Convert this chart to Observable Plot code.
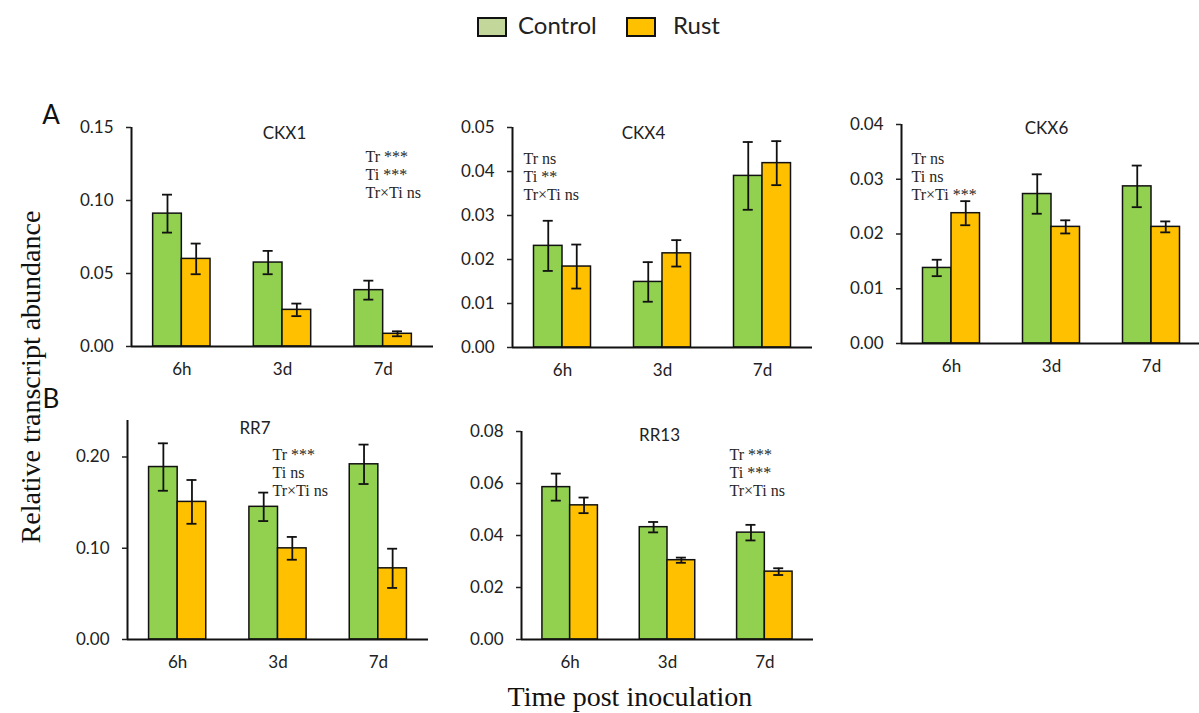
<!DOCTYPE html>
<html>
<head>
<meta charset="utf-8">
<script src="https://cdn.jsdelivr.net/npm/d3@7"></script>
<script src="https://cdn.jsdelivr.net/npm/@observablehq/plot@0.6"></script>
<style>
  html, body { margin: 0; padding: 0; background: #fff; overflow: hidden; }
  #root { position: relative; width: 1199px; height: 713px; overflow: hidden; background: #fff; }
  .panel { position: absolute; }
  .abs { position: absolute; white-space: nowrap; line-height: 1; }
  .swatch { position: absolute; box-sizing: border-box; border: 2px solid #111; width: 30px; height: 20px; }
</style>
</head>
<body>
<div id="root"></div>
<script>
// ---------- data ----------
const times = ["6h", "3d", "7d"];
const treatments = ["Control", "Rust"];

const ckx1Control    = [0.0910, 0.0575, 0.0386];
const ckx1ControlErr = [0.0130, 0.0080, 0.0065];
const ckx1Rust       = [0.0600, 0.0251, 0.0087];
const ckx1RustErr    = [0.0105, 0.0043, 0.0017];

const ckx4Control    = [0.0231, 0.0149, 0.0390];
const ckx4ControlErr = [0.0057, 0.0045, 0.0077];
const ckx4Rust       = [0.0184, 0.0214, 0.0419];
const ckx4RustErr    = [0.0050, 0.0030, 0.0050];

const ckx6Control    = [0.0138, 0.0273, 0.0287];
const ckx6ControlErr = [0.0015, 0.0036, 0.0038];
const ckx6Rust       = [0.0238, 0.0213, 0.0213];
const ckx6RustErr    = [0.0022, 0.0012, 0.0010];

const rr7Control     = [0.1890, 0.1454, 0.1920];
const rr7ControlErr  = [0.0260, 0.0156, 0.0216];
const rr7Rust        = [0.1508, 0.0999, 0.0780];
const rr7RustErr     = [0.0240, 0.0125, 0.0215];

const rr13Control    = [0.0586, 0.0432, 0.0411];
const rr13ControlErr = [0.0052, 0.0020, 0.0030];
const rr13Rust       = [0.0516, 0.0305, 0.0261];
const rr13RustErr    = [0.0030, 0.0010, 0.0013];

const ckx1Ticks = [0, 0.05, 0.10, 0.15];
const ckx4Ticks = [0, 0.01, 0.02, 0.03, 0.04, 0.05];
const ckx6Ticks = [0, 0.01, 0.02, 0.03, 0.04];
const rr7Ticks  = [0, 0.10, 0.20];
const rr13Ticks = [0, 0.02, 0.04, 0.06, 0.08];

const ckx1Stats = ["Tr ***", "Ti ***", "Tr×Ti ns"];
const ckx4Stats = ["Tr ns", "Ti **", "Tr×Ti ns"];
const ckx6Stats = ["Tr ns", "Ti ns", "Tr×Ti ***"];
const rr7Stats  = ["Tr ***", "Ti ns", "Tr×Ti ns"];
const rr13Stats = ["Tr ***", "Ti ***", "Tr×Ti ns"];

const legendLabels = treatments;
const yAxisTitle = "Relative transcript abundance";
const xAxisTitle = "Time post inoculation";
const panelLetters = ["A", "B"];

// ---------- style ----------
const controlColor = "#92D050";
const rustColor = "#FFC000";
const legendControlColor = "#C4D79B";
const padIn = 0.43;

const panels = [
  {gene: "CKX1", c: ckx1Control, ce: ckx1ControlErr, r: ckx1Rust, re: ckx1RustErr, yMax: 0.15, ticks: ckx1Ticks, stats: ckx1Stats,
   left: 0, top: 90, width: 451, height: 296, ml: 131, mr: 18, mt: 37, mb: 40, tdx: 2, tdy: 6, sdx: 234, sdy: 22},
  {gene: "CKX4", c: ckx4Control, ce: ckx4ControlErr, r: ckx4Rust, re: ckx4RustErr, yMax: 0.05, ticks: ckx4Ticks, stats: ckx4Stats,
   left: 450, top: 90, width: 380, height: 297, ml: 62, mr: 18, mt: 37, mb: 40, tdx: -19, tdy: 6, sdx: 11, sdy: 24},
  {gene: "CKX6", c: ckx6Control, ce: ckx6ControlErr, r: ckx6Rust, re: ckx6RustErr, yMax: 0.04, ticks: ckx6Ticks, stats: ckx6Stats,
   left: 830, top: 87, width: 371, height: 296, ml: 71, mr: 0, mt: 37, mb: 40, tdx: -5, tdy: 4, sdx: 10, sdy: 26.5},
  {gene: "RR7", c: rr7Control, ce: rr7ControlErr, r: rr7Rust, re: rr7RustErr, yMax: 0.24, ticks: rr7Ticks, stats: rr7Stats,
   left: 0, top: 383, width: 450, height: 296, ml: 127, mr: 22, mt: 37, mb: 40, tdx: -23, tdy: 8, sdx: 145, sdy: 27},
  {gene: "RR13", c: rr13Control, ce: rr13ControlErr, r: rr13Rust, re: rr13RustErr, yMax: 0.08, ticks: rr13Ticks, stats: rr13Stats,
   left: 450, top: 394, width: 380, height: 285, ml: 71, mr: 17, mt: 37, mb: 40, tdx: -8, tdy: 4, sdx: 208, sdy: 16}
];

const root = document.getElementById("root");

for (const p of panels) {
  const ctrl = times.map((t, i) => ({time: t, value: p.c[i], err: p.ce[i]}));
  const rust = times.map((t, i) => ({time: t, value: p.r[i], err: p.re[i]}));
  const frameW = p.width - p.ml - p.mr;
  const step = frameW / times.length;
  const bw = step * (1 - padIn);
  const capHalf = 5;
  const errMarks = (rows, off) => [
    Plot.ruleX(rows, {x: "time", y1: d => d.value - d.err, y2: d => d.value + d.err, dx: off, stroke: "#111", strokeWidth: 1.8}),
    Plot.tickY(rows, {x: "time", y: d => d.value + d.err, dx: off, insetLeft: bw / 2 - capHalf, insetRight: bw / 2 - capHalf, stroke: "#111", strokeWidth: 1.8}),
    Plot.tickY(rows, {x: "time", y: d => d.value - d.err, dx: off, insetLeft: bw / 2 - capHalf, insetRight: bw / 2 - capHalf, stroke: "#111", strokeWidth: 1.8})
  ];
  const chart = Plot.plot({
    width: p.width,
    height: p.height,
    marginLeft: p.ml, marginRight: p.mr, marginTop: p.mt, marginBottom: p.mb,
    style: {fontFamily: "Lato", fontSize: "17px", color: "#222", background: "transparent", overflow: "visible"},
    x: {type: "band", domain: times, paddingInner: padIn, paddingOuter: padIn / 2, round: false, axis: null},
    y: {domain: [0, p.yMax], nice: false, axis: null},
    marks: [
      Plot.barY(ctrl, {x: "time", y: "value", fill: controlColor, stroke: "#111", strokeWidth: 1.5, insetRight: bw / 2}),
      Plot.barY(rust, {x: "time", y: "value", fill: rustColor, stroke: "#111", strokeWidth: 1.5, insetLeft: bw / 2}),
      ...errMarks(ctrl, -bw / 4),
      ...errMarks(rust, bw / 4),
      Plot.ruleY([0], {stroke: "#111", strokeWidth: 2}),
      Plot.ruleX(times.slice(0, 1), {x: d => d, y1: 0, y2: p.yMax, dx: -step / 2, stroke: "#111", strokeWidth: 2}),
      Plot.axisY(p.ticks, {tickFormat: d3.format(".2f"), tickSize: 5, tickPadding: 13, strokeWidth: 1.5, label: null, fill: "#222"}),
      Plot.axisX(times, {tickSize: 0, tickPadding: 16, label: null, fill: "#222"}),
      Plot.text([p.gene], {text: d => d, frameAnchor: "top", lineAnchor: "middle", dx: p.tdx, dy: p.tdy, fontSize: 17, fill: "#222"}),
      Plot.text([p.stats.join("\n")], {text: d => d, frameAnchor: "top-left", textAnchor: "start", lineAnchor: "top",
        dx: p.sdx, dy: p.sdy, fontFamily: "Liberation Serif", fontSize: 16, lineHeight: 1.13, fill: "#262626"})
    ]
  });
  chart.classList.add("panel");
  chart.style.left = p.left + "px";
  chart.style.top = p.top + "px";
  chart.style.maxWidth = "none";
  root.appendChild(chart);
}

// ---------- annotations & legend (HTML) ----------
function addText(txt, x, y, css) {
  const d = document.createElement("div");
  d.className = "abs";
  d.textContent = txt;
  d.style.left = x + "px";
  d.style.top = y + "px";
  Object.assign(d.style, css);
  root.appendChild(d);
  return d;
}
// panel letters
addText(panelLetters[0], 51, 114, {fontFamily: "Lato", fontSize: "26px", color: "#111", transform: "translate(-50%,-50%)"});
addText(panelLetters[1], 51, 398, {fontFamily: "Lato", fontSize: "26px", color: "#111", transform: "translate(-50%,-50%)"});
// axis titles
addText(yAxisTitle, 31, 377, {fontFamily: "Liberation Serif", fontSize: "28px", color: "#111", transform: "translate(-50%,-50%) rotate(-90deg)"});
addText(xAxisTitle, 630, 697, {fontFamily: "Liberation Serif", fontSize: "28px", color: "#111", transform: "translate(-50%,-50%)"});
// legend
const legendSw = [
  {x: 477, color: legendControlColor, tx: 518},
  {x: 626, color: rustColor, tx: 673}
];
legendLabels.forEach((lab, i) => {
  const s = document.createElement("div");
  s.className = "swatch";
  s.style.left = legendSw[i].x + "px";
  s.style.top = "17px";
  s.style.background = legendSw[i].color;
  root.appendChild(s);
  addText(lab, legendSw[i].tx, 25, {fontFamily: "Lato", fontSize: "24px", color: "#222", transform: "translateY(-50%)"});
});
</script>
</body>
</html>
